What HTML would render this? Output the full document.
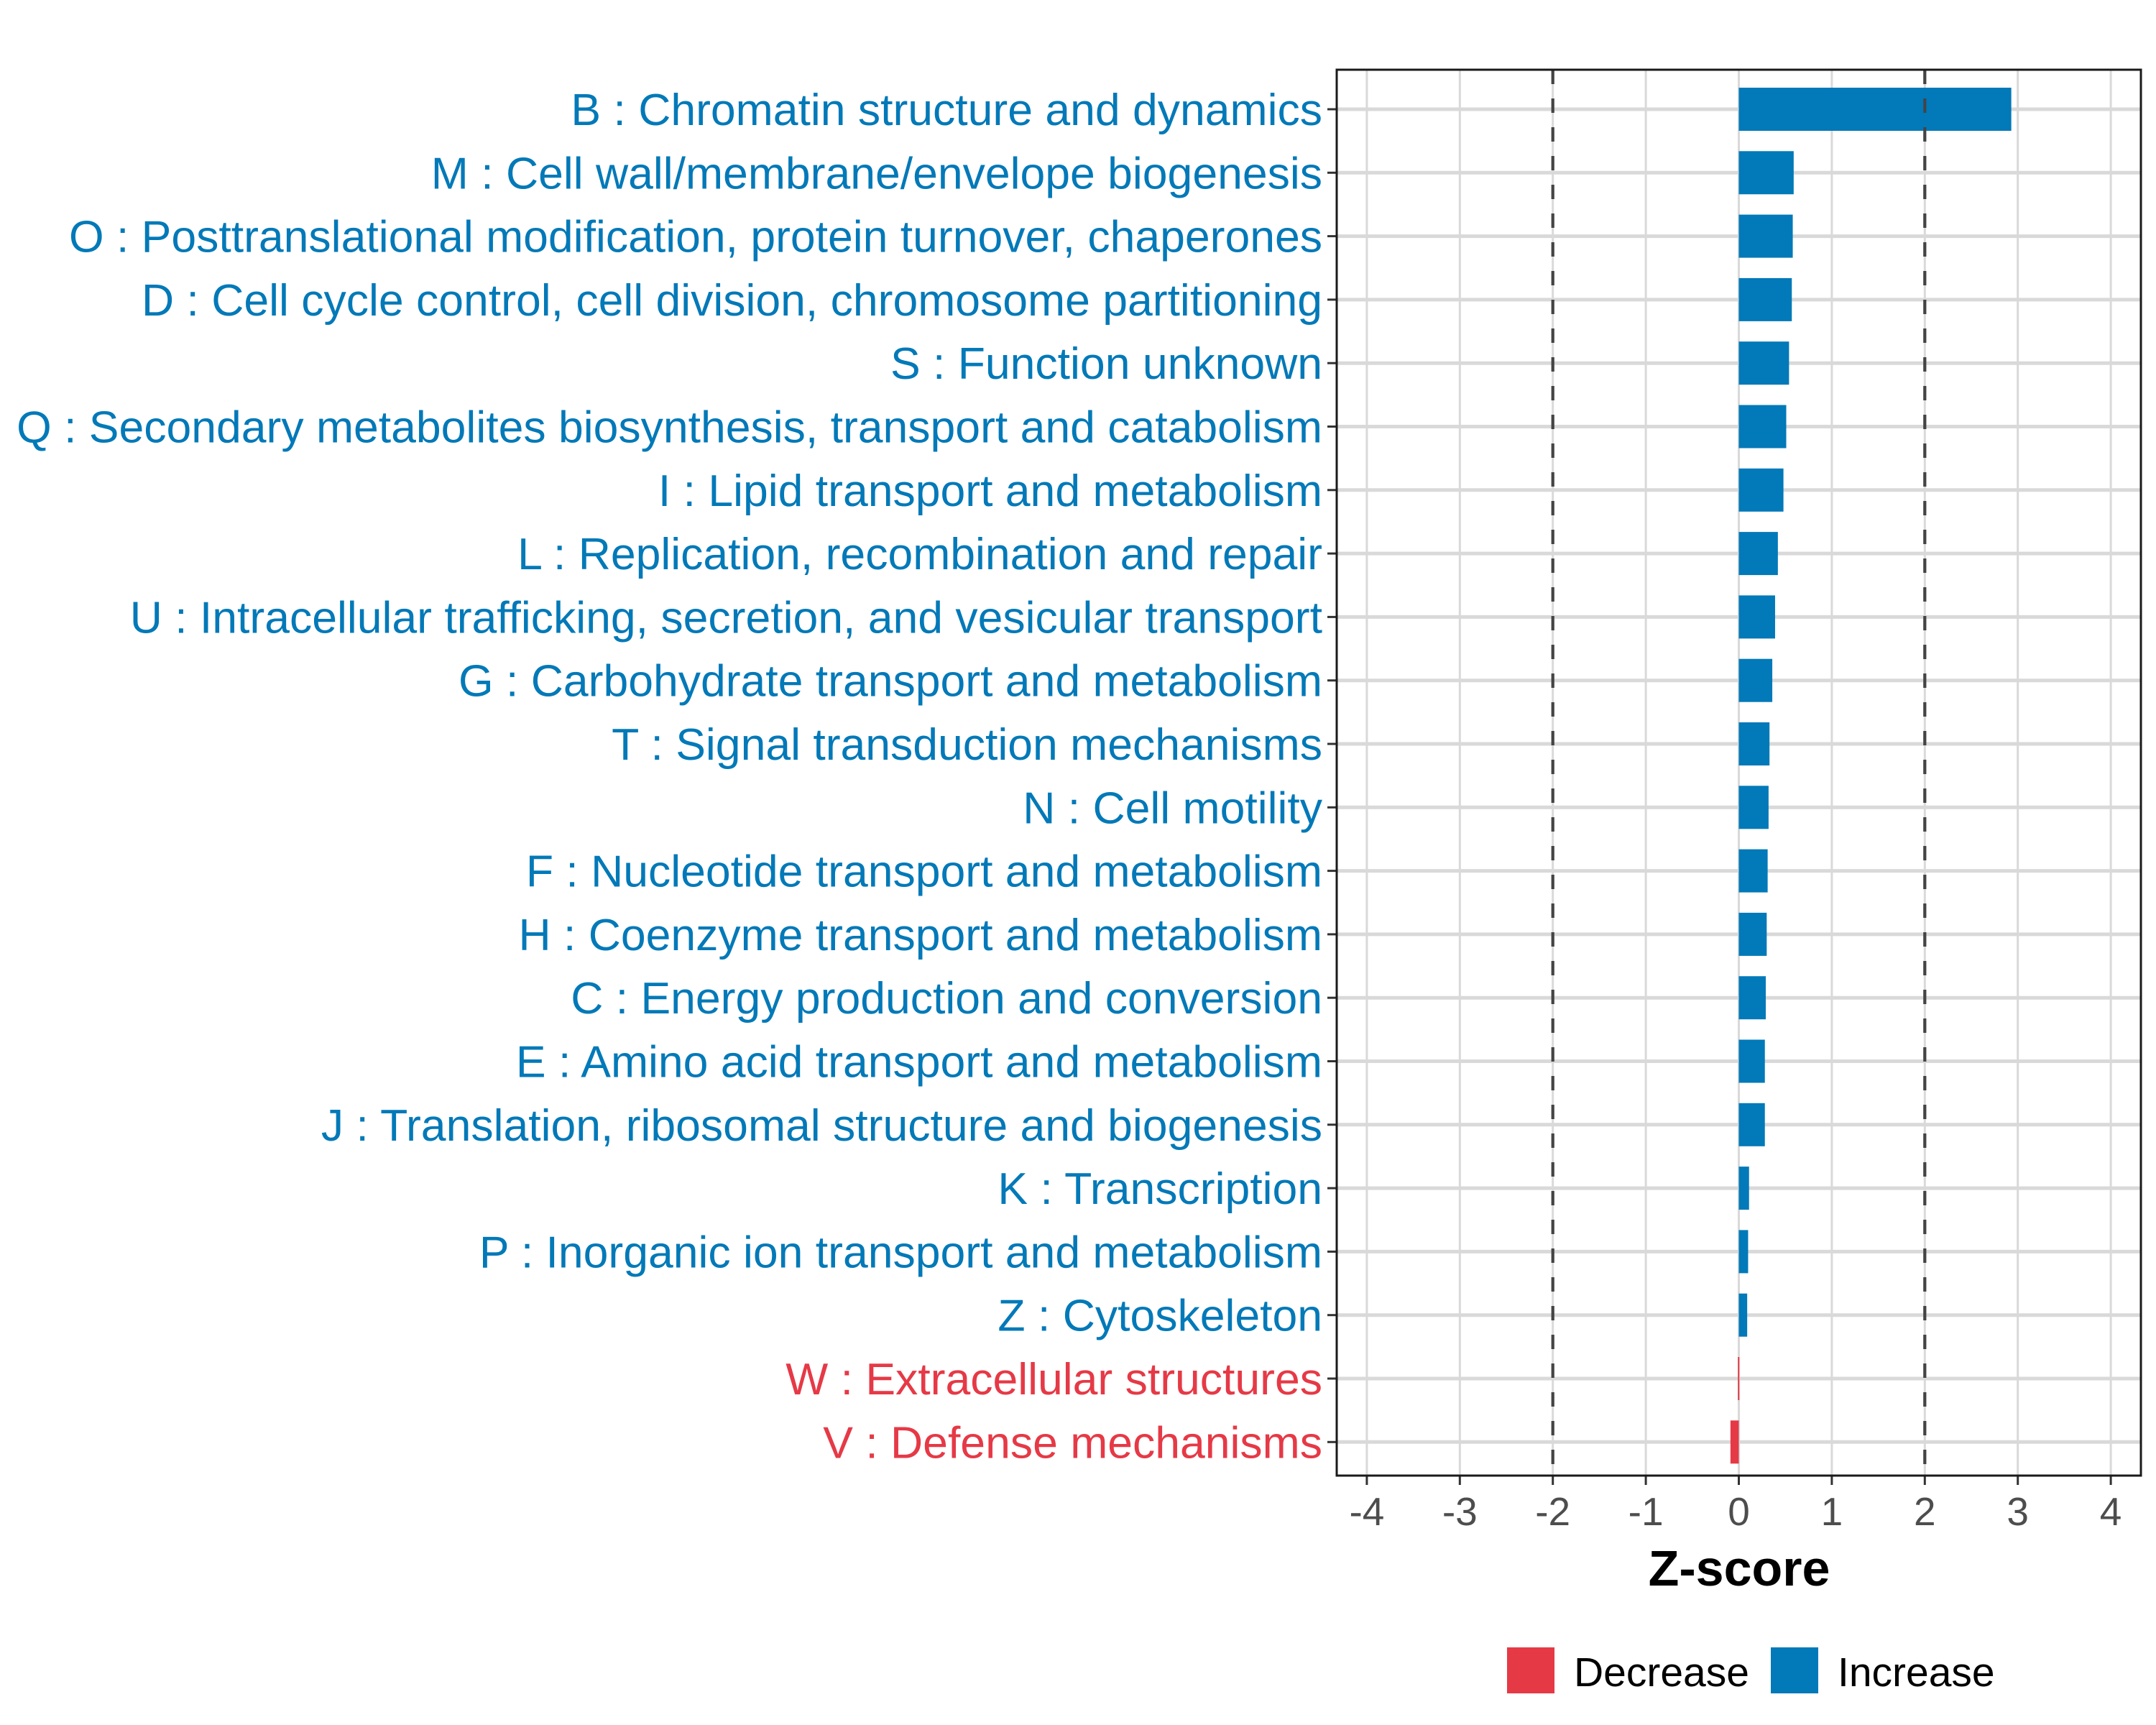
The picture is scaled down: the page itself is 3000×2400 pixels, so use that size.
<!DOCTYPE html>
<html><head><meta charset="utf-8"><style>
html,body{margin:0;padding:0;background:#fff;}
svg{display:block;font-family:"Liberation Sans",sans-serif;}
</style></head><body>
<svg id="chart" width="3000" height="2400" viewBox="0 0 3000 2400">
<g id="grid"></g>
<g id="bars"></g>
<g id="ylabels"></g>
<g id="xaxis"></g>
<rect x="1860" y="97" width="1119" height="1956" fill="none" stroke="#1a1a1a" stroke-width="3"/>
<text x="2420" y="2206" text-anchor="middle" font-size="70" font-weight="bold" fill="#000">Z-score</text>
<g>
<rect x="2097" y="2292" width="66" height="64" fill="#e63946"/>
<text x="2190" y="2346" font-size="57" fill="#000">Decrease</text>
<rect x="2464" y="2292" width="66" height="64" fill="#0279b8"/>
<text x="2557" y="2346" font-size="57" fill="#000">Increase</text>
</g>
</svg>
<script>
const categories = ["B : Chromatin structure and dynamics","M : Cell wall/membrane/envelope biogenesis","O : Posttranslational modification, protein turnover, chaperones","D : Cell cycle control, cell division, chromosome partitioning","S : Function unknown","Q : Secondary metabolites biosynthesis, transport and catabolism","I : Lipid transport and metabolism","L : Replication, recombination and repair","U : Intracellular trafficking, secretion, and vesicular transport","G : Carbohydrate transport and metabolism","T : Signal transduction mechanisms","N : Cell motility","F : Nucleotide transport and metabolism","H : Coenzyme transport and metabolism","C : Energy production and conversion","E : Amino acid transport and metabolism","J : Translation, ribosomal structure and biogenesis","K : Transcription","P : Inorganic ion transport and metabolism","Z : Cytoskeleton","W : Extracellular structures","V : Defense mechanisms"];
const zscores = [2.93,0.59,0.58,0.57,0.54,0.51,0.48,0.42,0.39,0.36,0.33,0.32,0.31,0.30,0.29,0.28,0.28,0.11,0.10,0.09,-0.01,-0.09];
const xTicks = [-4,-3,-2,-1,0,1,2,3,4];
const thresholds = [-2,2];
const NS="http://www.w3.org/2000/svg";
const X0=2419.5, XU=129.4, Y0=152, DY=88.3, BH=60;
const PL=1860, PR=2979, PT=97, PB=2053;
function xs(v){return X0+v*XU;}
function ys(i){return Y0+i*DY;}
function mk(tag,attrs,parent){const e=document.createElementNS(NS,tag);for(const k in attrs)e.setAttribute(k,attrs[k]);parent.appendChild(e);return e;}
const grid=document.getElementById('grid'),bars=document.getElementById('bars'),yl=document.getElementById('ylabels'),xa=document.getElementById('xaxis');
xTicks.forEach(t=>{
  const l=mk('line',{x1:xs(t),x2:xs(t),y1:PT,y2:PB,stroke:'#d9d9d9','stroke-width':3},grid);
  
  
  const tk=mk('line',{x1:xs(t),x2:xs(t),y1:PB,y2:PB+13,stroke:'#333','stroke-width':3},xa);
  
  
  const tx=mk('text',{x:xs(t),y:2122,'text-anchor':'middle','font-size':55,fill:'#4d4d4d'},xa);
  tx.textContent=t;
  
  
});
categories.forEach((c,i)=>{
  const l=mk('line',{x1:PL,x2:PR,y1:ys(i),y2:ys(i),stroke:'#d9d9d9','stroke-width':5},grid);
  
  
  const tk=mk('line',{x1:PL-13,x2:PL,y1:ys(i),y2:ys(i),stroke:'#333','stroke-width':3},yl);
  
  
  const col=zscores[i]<0?'#e63946':'#0279b8';
  const tx=mk('text',{x:1840,y:ys(i)+22,'text-anchor':'end','font-size':62.5,fill:col},yl);
  tx.textContent=c;
  
  
});
thresholds.forEach(t=>{
  const l=mk('line',{x1:xs(t),x2:xs(t),y1:PT,y2:PB,stroke:'#444','stroke-width':4,'stroke-dasharray':'20 20'},grid);
  
  
});
zscores.forEach((v,i)=>{
  const x=Math.min(xs(0),xs(v)),w=Math.max(Math.abs(xs(v)-xs(0)),2);
  const r=mk('rect',{x:x,y:ys(i)-BH/2,width:w,height:BH,fill:v<0?'#e63946':'#0279b8'},bars);
  
  
});
bars.parentNode.insertBefore(bars,grid.nextSibling);
thresholds.forEach(t=>{
  const l=mk('line',{x1:xs(t),x2:xs(t),y1:PT,y2:PB,stroke:'#444','stroke-width':4,'stroke-dasharray':'20 20'},bars);
  
  
});
</script>
</body></html>
